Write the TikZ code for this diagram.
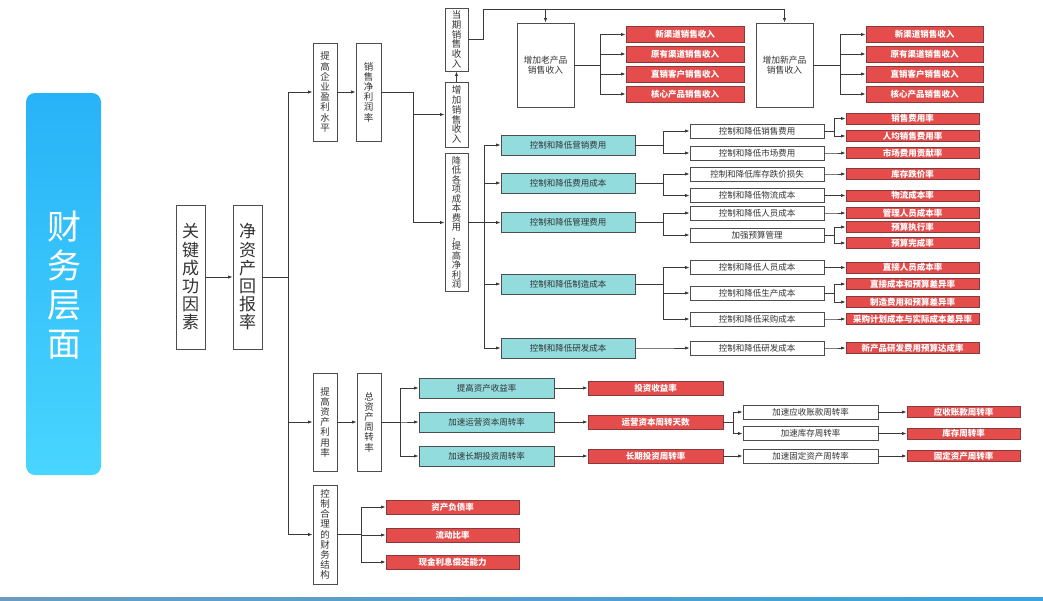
\documentclass[tikz,border=0pt]{standalone}
\usepackage{fontspec}
\setmainfont{Noto Sans CJK SC}
\usetikzlibrary{arrows.meta,calc}
\definecolor{redf}{HTML}{E54C4C}
\definecolor{redd}{HTML}{8A3A3A}
\definecolor{tealf}{HTML}{92DCDE}
\definecolor{bordc}{HTML}{4D4D4D}
\definecolor{txtc}{HTML}{333333}
\definecolor{linec}{HTML}{3A3A3A}
\definecolor{bluet}{HTML}{27B3F7}
\definecolor{blueb}{HTML}{48D5FE}
\definecolor{linel}{HTML}{6A9CC2}
\definecolor{liner}{HTML}{3BA3DF}
\begin{document}
\begin{tikzpicture}[x=1pt,y=-1pt,
  box/.style={draw=bordc, line width=0.7pt, inner sep=0pt, text=txtc},
  vbox/.style={box, fill=white, align=center, font=\fontsize{9.5}{10.2}\selectfont},
  wbox/.style={box, fill=white, minimum width=134pt, minimum height=14pt, font=\fontsize{8.5}{10}\selectfont},
  tbox/.style={box, fill=tealf, minimum width=134pt, minimum height=20pt, font=\fontsize{8.5}{10}\selectfont},
  rbox/.style={box, fill=redf, draw=redd, text=white, font=\bfseries\fontsize{8.5}{10}\selectfont},
  con/.style={draw=linec, line width=0.8pt},
  arr/.style={con, -{Latex[length=4.5pt,width=3.2pt]}},
]
\useasboundingbox (0,0) rectangle (1043,600);
\fill[white] (0,0) rectangle (1043,600);
% left banner
\shade[top color=bluet, bottom color=blueb, rounded corners=9pt] (26,93) rectangle (101,475);
\node[text=white, align=center, inner sep=0pt, font=\fontsize{34}{39}\selectfont] (banner) at (64,285) {财\\务\\层\\面};
% bottom line
\shade[left color=linel, right color=liner] (0,597) rectangle (1043,600);

% junction coordinates
\coordinate (J1) at (288,0);
\coordinate (J2) at (413,0);
\coordinate (J3) at (483,0);
\coordinate (JT) at (0,9);
\coordinate (J5) at (600,0);
\coordinate (J6) at (840,0);
\coordinate (J7) at (484,0);
\coordinate (J8) at (663,0);
\coordinate (J9) at (834,0);
\coordinate (J10) at (400,0);
\coordinate (J11) at (733,0);
\coordinate (J12) at (361,0);

% main vertical boxes
\node[vbox, minimum width=29pt, minimum height=144pt, font=\fontsize{17}{18.2}\selectfont] (gj) at (190.5,277) {关\\键\\成\\功\\因\\素};
\node[vbox, minimum width=29pt, minimum height=144pt, font=\fontsize{17}{18.2}\selectfont] (jzc) at (247.5,277) {净\\资\\产\\回\\报\\率};
\node[vbox, minimum width=24pt, minimum height=98pt] (yl) at (325,92) {提\\高\\企\\业\\盈\\利\\水\\平};
\node[vbox, minimum width=25pt, minimum height=98pt] (xs) at (368.5,92) {销\\售\\净\\利\\润\\率};
\node[vbox, minimum width=23pt, minimum height=63pt, font=\fontsize{9.5}{9.7}\selectfont] (dq) at (456.5,39.5) {当\\期\\销\\售\\收\\入};
\node[vbox, minimum width=23pt, minimum height=65pt, font=\fontsize{9.5}{9.7}\selectfont] (zj) at (456.5,114.5) {增\\加\\销\\售\\收\\入};
\node[vbox, minimum width=23pt, minimum height=138pt, font=\fontsize{9.3}{9.5}\selectfont] (jd) at (456.5,222.5) {降\\低\\各\\项\\成\\本\\费\\用\\，\\提\\高\\净\\利\\润};
\node[vbox, minimum width=24pt, minimum height=98pt] (zy) at (325,422) {提\\高\\资\\产\\利\\用\\率};
\node[vbox, minimum width=24pt, minimum height=98pt] (zz) at (369,422) {总\\资\\产\\周\\转\\率};
\node[vbox, minimum width=24pt, minimum height=99pt] (cw) at (325,534.5) {控\\制\\合\\理\\的\\财\\务\\结\\构};

% product boxes
\node[box, fill=white, align=center, minimum width=57pt, minimum height=84pt, font=\fontsize{8.8}{10.5}\selectfont] (lao) at (545.5,65) {增加老产品\\销售收入};
\node[box, fill=white, align=center, minimum width=57pt, minimum height=84pt, font=\fontsize{8.8}{10.5}\selectfont] (xin) at (784.5,65) {增加新产品\\销售收入};

\foreach \y/\t [count=\i] in {34.5/新渠道销售收入, 54/原有渠道销售收入, 74/直销客户销售收入, 94/核心产品销售收入}{
  \node[rbox, minimum width=118pt, minimum height=16pt] (r\i) at (685,\y) {\t};
  \node[rbox, minimum width=117pt, minimum height=16pt] (s\i) at (924.5,\y) {\t};
}

% teal cost boxes
\foreach \y/\t [count=\i] in {145/控制和降低营销费用, 183/控制和降低费用成本, 222.5/控制和降低管理费用, 284/控制和降低制造成本, 348/控制和降低研发成本}{
  \node[tbox] (c\i) at (568,\y) {\t};
}
% white boxes
\foreach \y/\t [count=\i] in {131/控制和降低销售费用, 153/控制和降低市场费用, 174/控制和降低库存跌价损失, 195.5/控制和降低物流成本, 213/控制和降低人员成本, 235/加强预算管理, 267.5/控制和降低人员成本, 293/控制和降低生产成本, 319/控制和降低采购成本, 348/控制和降低研发成本}{
  \node[wbox] (w\i) at (757,\y) {\t};
}
% red indicator boxes
\foreach \y/\t [count=\i] in {118.5/销售费用率, 136/人均销售费用率, 153/市场费用贡献率, 174/库存跌价率, 195.5/物流成本率, 213/管理人员成本率, 227/预算执行率, 243/预算完成率, 267.5/直接人员成本率, 284/直接成本和预算差异率, 302/制造费用和预算差异率, 319/采购计划成本与实际成本差异率, 348/新产品研发费用预算达成率}{
  \node[rbox, minimum width=133pt, minimum height=11pt] (m\i) at (912.5,\y) {\t};
}

% asset boxes
\foreach \y/\t [count=\i] in {388/提高资产收益率, 422/加速运营资本周转率, 456/加速长期投资周转率}{
  \node[tbox, minimum width=135pt] (a\i) at (486.5,\y) {\t};
}
\foreach \y/\t [count=\i] in {388/投资收益率, 422/运营资本周转天数, 456/长期投资周转率}{
  \node[rbox, minimum width=135pt, minimum height=14pt] (b\i) at (655.5,\y) {\t};
}
\foreach \y/\t [count=\i] in {412/加速应收账款周转率, 433.5/加速库存周转率, 456/加速固定资产周转率}{
  \node[wbox, minimum width=135pt] (v\i) at (810.5,\y) {\t};
}
\foreach \y/\t [count=\i] in {412/应收账款周转率, 433.5/库存周转率, 456/固定资产周转率}{
  \node[rbox, minimum width=113pt, minimum height=11pt] (u\i) at (963.5,\y) {\t};
}
\foreach \y/\t [count=\i] in {507/资产负债率, 535/流动比率, 562/现金利息偿还能力}{
  \node[rbox, minimum width=133pt, minimum height=14pt] (k\i) at (452.5,\y) {\t};
}

% connectors
\draw[arr] (gj.east) -- (jzc.west);
\foreach \b in {yl,zy,cw} \draw[arr] (jzc.east) -- (jzc.east -| J1) |- (\b.west);
\draw[arr] (yl.east) -- (xs.west);
\foreach \b in {zj,jd} \draw[arr] (xs.east) -- (xs.east -| J2) |- (\b.west);
\draw[arr] (zj.north) -- (dq.south);
\draw[arr] (dq.east) -- (dq.east -| J3) |- (xin.north |- JT) -- (xin.north);
\draw[arr] (lao.north |- JT) -- (lao.north);
\foreach \i in {1,...,4}{
  \draw[arr] (lao.east) -- (lao.east -| J5) |- (r\i.west);
  \draw[arr] (xin.east) -- (xin.east -| J6) |- (s\i.west);
}
\foreach \i in {1,...,5} \draw[arr] (jd.east) -- (jd.east -| J7) |- (c\i.west);
\foreach \a/\b in {c1/w1, c1/w2, c2/w3, c2/w4, c3/w5, c3/w6, c4/w7, c4/w8, c4/w9, c5/w10}
  \draw[arr] (\a.east) -- (\a.east -| J8) |- (\b.west);
\foreach \a/\b in {w1/m1, w1/m2, w2/m3, w3/m4, w4/m5, w5/m6, w6/m7, w6/m8, w7/m9, w8/m10, w8/m11, w9/m12, w10/m13}
  \draw[arr] (\a.east) -- (\a.east -| J9) |- (\b.west);
\draw[arr] (zy.east) -- (zz.west);
\foreach \i in {1,2,3} \draw[arr] (zz.east) -- (zz.east -| J10) |- (a\i.west);
\foreach \i in {1,2,3} \draw[arr] (a\i.east) -- (b\i.west);
\foreach \i in {1,2} \draw[arr] (b2.east) -- (b2.east -| J11) |- (v\i.west);
\draw[arr] (b3.east) -- (v3.west);
\foreach \i in {1,2,3} \draw[arr] (v\i.east) -- (u\i.west);
\foreach \i in {1,2,3} \draw[arr] (cw.east) -- (cw.east -| J12) |- (k\i.west);
\end{tikzpicture}
\end{document}
